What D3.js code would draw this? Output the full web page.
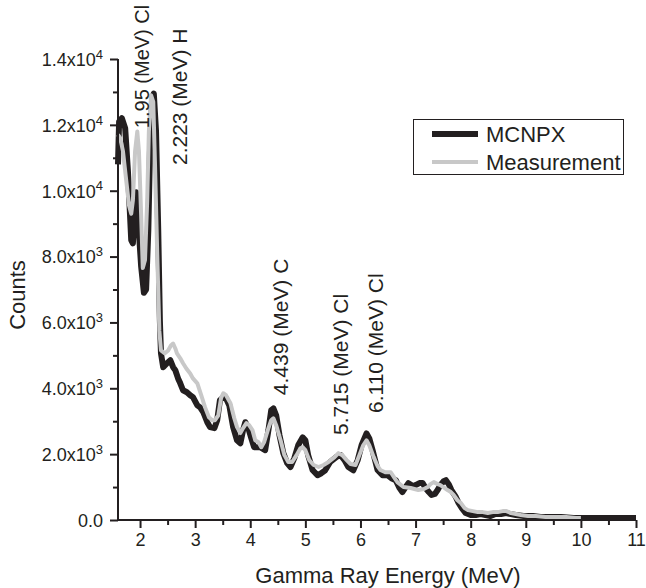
<!DOCTYPE html>
<html>
<head>
<meta charset="utf-8">
<script src="https://cdn.jsdelivr.net/npm/d3@7"></script>
<style>
  html, body { margin: 0; padding: 0; background: #fff; }
  svg { display: block; font-family: "Liberation Sans", Arial, Helvetica, sans-serif; }
</style>
</head>
<body>
<svg id="chart" width="646" height="588"></svg>
<script>
// Simulated (MCNPX) spectrum: energy in MeV, counts
const mcnpxEnergy = [1.60,1.62,1.67,1.73,1.78,1.84,1.87,1.91,1.93,1.96,2.02,2.07,2.11,2.15,2.18,2.22,2.25,2.29,2.33,2.36,2.38,2.42,2.49,2.55,2.60,2.64,2.69,2.73,2.78,2.85,2.91,2.96,3.04,3.09,3.15,3.22,3.27,3.35,3.40,3.45,3.51,3.56,3.62,3.69,3.76,3.82,3.87,3.91,3.96,4.02,4.07,4.13,4.18,4.27,4.33,4.38,4.42,4.47,4.53,4.60,4.67,4.73,4.80,4.87,4.95,5.00,5.05,5.13,5.22,5.29,5.36,5.45,5.56,5.64,5.71,5.78,5.87,5.95,6.02,6.11,6.16,6.22,6.31,6.40,6.49,6.56,6.64,6.71,6.76,6.82,6.87,6.95,7.00,7.07,7.13,7.18,7.24,7.29,7.35,7.40,7.45,7.51,7.55,7.60,7.65,7.73,7.78,7.84,7.91,8.00,8.09,8.18,8.27,8.36,8.45,8.55,8.64,8.73,8.82,8.96,9.13,9.27,9.45,9.64,9.87,10.09,10.36,10.64,10.91,11.00];
const mcnpxCounts = [10800,12100,12200,11900,10600,8500,8400,9550,9950,9250,7700,6900,7000,8800,11200,12800,12950,11800,8800,6050,5060,4640,4760,4850,4640,4550,4300,4150,3940,3880,3790,3730,3480,3420,3270,2970,2820,2790,3030,3640,3730,3700,3480,2820,2420,2330,2730,2970,2820,2480,2210,2210,2210,2120,2730,3330,3390,3180,2580,2030,1730,1610,1880,2270,2510,2420,1970,1520,1360,1420,1510,1760,1910,1970,1820,1610,1510,1820,2270,2630,2480,2120,1520,1360,1360,1270,1210,970,850,1000,1120,1030,1060,1120,1120,970,850,760,790,910,1060,1180,1210,1090,910,700,520,360,210,150,150,180,150,120,180,180,210,180,150,120,120,90,90,90,60,60,60,60,60,60];

// Measured spectrum: energy in MeV, counts
const measEnergy = [1.60,1.64,1.69,1.75,1.80,1.84,1.87,1.91,1.95,1.98,2.02,2.05,2.09,2.13,2.16,2.20,2.24,2.27,2.31,2.35,2.38,2.45,2.51,2.56,2.60,2.64,2.67,2.73,2.78,2.84,2.91,2.96,3.04,3.11,3.18,3.25,3.31,3.36,3.42,3.47,3.51,3.56,3.64,3.71,3.76,3.82,3.87,3.93,3.98,4.04,4.09,4.15,4.20,4.25,4.33,4.38,4.42,4.47,4.55,4.62,4.69,4.76,4.84,4.91,4.95,5.00,5.07,5.15,5.24,5.33,5.42,5.53,5.60,5.67,5.75,5.82,5.91,5.98,6.05,6.11,6.16,6.24,6.31,6.36,6.45,6.55,6.62,6.67,6.78,6.91,7.05,7.15,7.22,7.27,7.33,7.40,7.45,7.53,7.58,7.64,7.69,7.76,7.82,7.89,7.95,8.04,8.13,8.22,8.31,8.40,8.49,8.58,8.65,8.73,8.82,8.91,9.04,9.18,9.36,9.55,9.73,9.91,10.00];
const measCounts = [11700,11600,11200,10300,9550,9300,9700,11200,11800,11200,9250,7650,7900,9700,11800,12900,12700,10900,8200,5750,5150,5060,5150,5300,5360,5210,5060,4910,4760,4600,4450,4300,4150,3790,3420,3120,3030,3030,3180,3700,3850,3790,3550,3090,2820,2640,2790,2940,2880,2730,2420,2360,2210,2360,2790,3030,3090,2880,2420,1970,1760,1760,1970,2180,2210,2120,1820,1670,1610,1670,1760,1910,2030,1970,1820,1700,1670,1970,2270,2420,2270,1910,1640,1520,1450,1450,1270,1150,1000,970,910,940,1000,1090,1150,1090,1060,970,910,850,760,600,520,360,300,270,240,240,210,240,240,270,270,210,180,150,120,120,90,90,90,60,60];

// Axis ticks and labels
const xMajorTicks = [2,3,4,5,6,7,8,9,10,11];
const xMinorTicks = [2.5,3.5,4.5,5.5,6.5,7.5,8.5,9.5,10.5];
const yMajorTicks = [0,2000,4000,6000,8000,10000,12000,14000];
const yMinorTicks = [1000,3000,5000,7000,9000,11000,13000];
const yTickBase = ["0.0","2.0x10","4.0x10","6.0x10","8.0x10","1.0x10","1.2x10","1.4x10"];
const yTickExp  = ["","3","3","3","3","4","4","4"];

// Series names and peak annotations
const seriesNames = ["MCNPX","Measurement"];
const peakLabels = ["1.95 (MeV) Cl","2.223 (MeV) H","4.439 (MeV) C","5.715 (MeV) Cl","6.110 (MeV) Cl"];
const peakCounts = [11900, 10780, 3790, 2580, 3250];

const ink = "#231f20";
const grey = "#c8c8c8";

const svg = d3.select("#chart");
const x = d3.scaleLinear().domain([1.6, 11]).range([118, 636]);
const y = d3.scaleLinear().domain([0, 14000]).range([520, 59]);

// Series lines (simulation underneath, measurement on top)
const line = d3.line().x(d => x(d[0])).y(d => y(d[1])).curve(d3.curveLinear);
const mcnpx = mcnpxEnergy.map((e, i) => [e, mcnpxCounts[i]]);
const meas = measEnergy.map((e, i) => [e, measCounts[i]]);

svg.append("path").datum(mcnpx).attr("d", line)
  .attr("fill", "none").attr("stroke", ink).attr("stroke-width", 6)
  .attr("stroke-linejoin", "round");
svg.append("path").datum(meas).attr("d", line)
  .attr("fill", "none").attr("stroke", grey).attr("stroke-width", 4)
  .attr("stroke-linejoin", "round");

// Axes
function styleAxis(g) {
  g.selectAll("path, line").attr("stroke", ink).attr("stroke-width", 2);
  g.selectAll("text").attr("fill", ink).attr("font-family", "Liberation Sans, Arial, sans-serif");
}

const xAxisG = svg.append("g").attr("transform", `translate(0,${y(0)})`);
xAxisG.call(d3.axisBottom(x).tickValues(xMajorTicks).tickSize(8).tickSizeOuter(0).tickPadding(5).tickFormat(d3.format("d")))
  .call(styleAxis);
xAxisG.selectAll("text").attr("font-size", 18);
xAxisG.select(".domain").attr("d", `M${x(1.6) - 1},0H${x(11)}`);
svg.append("g").attr("transform", `translate(0,${y(0)})`)
  .call(d3.axisBottom(x).tickValues(xMinorTicks).tickSize(5).tickFormat(""))
  .call(styleAxis).select(".domain").remove();

const yAxisG = svg.append("g").attr("transform", `translate(${x(1.6)},0)`);
yAxisG.call(d3.axisLeft(y).tickValues(yMajorTicks).tickSize(8).tickSizeOuter(0).tickPadding(7).tickFormat(""))
  .call(styleAxis);
yAxisG.select(".domain").attr("d", `M0,${y(14000)}V${y(0) + 1}`);
svg.append("g").attr("transform", `translate(${x(1.6)},0)`)
  .call(d3.axisLeft(y).tickValues(yMinorTicks).tickSize(5).tickFormat(""))
  .call(styleAxis).select(".domain").remove();

// Y tick labels with superscript exponents
yAxisG.selectAll(".tick").each(function(d, i) {
  const t = d3.select(this).select("text")
    .attr("font-size", 18).attr("x", -15).attr("dy", "0.35em").attr("text-anchor", "end");
  t.text(null);
  t.append("tspan").text(yTickBase[i]);
  if (yTickExp[i]) {
    t.append("tspan").attr("font-size", 13).attr("dy", "-0.55em").text(yTickExp[i]);
  }
});

// Axis titles
svg.append("text").attr("x", 388).attr("y", 583).attr("text-anchor", "middle")
  .attr("font-size", 22).attr("fill", ink).text("Gamma Ray Energy (MeV)");
svg.append("text").attr("transform", `translate(25,295) rotate(-90)`).attr("text-anchor", "middle")
  .attr("font-size", 22).attr("fill", ink).text("Counts");

// Peak annotations, written upward from just above each peak
const annX = [149, 187, 288, 348, 383];
const annSize = [20, 21, 21, 21, 21];
peakLabels.forEach((lab, i) => {
  svg.append("text")
    .attr("transform", `translate(${annX[i]},${y(peakCounts[i])}) rotate(-90)`)
    .attr("font-size", annSize[i]).attr("fill", ink).text(lab);
});

// Legend
const lg = svg.append("g");
lg.append("rect").attr("x", 413.5).attr("y", 119.5).attr("width", 210).attr("height", 55)
  .attr("fill", "#fff").attr("stroke", ink).attr("stroke-width", 1);
const legendColors = [ink, grey];
const legendWidths = [6, 4];
seriesNames.forEach((name, i) => {
  const ly = 134 + i * 28;
  lg.append("line").attr("x1", 432).attr("x2", 478).attr("y1", ly).attr("y2", ly)
    .attr("stroke", legendColors[i]).attr("stroke-width", legendWidths[i]);
  lg.append("text").attr("x", 486).attr("y", ly + 8).attr("font-size", 22)
    .attr("fill", ink).text(name);
});
</script>
</body>
</html>
